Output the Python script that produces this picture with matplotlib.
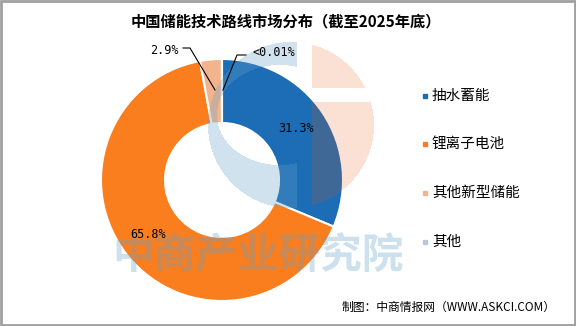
import numpy as np
import matplotlib.pyplot as plt
from matplotlib.patches import Rectangle

plt.rcParams['font.family'] = ['Noto Sans CJK SC', 'DejaVu Sans']

# 数据
categorias = ['抽水蓄能', '锂离子电池', '其他新型储能', '其他']
valores = [31.3, 65.8, 2.9, 0.01]
rotulos = ['31.3%', '65.8%', '2.9%', '<0.01%']
cores = ['#1c6db5', '#fa7d1e', '#f2b48c', '#b8c8d8']

W, H = 576, 326
fig = plt.figure(figsize=(W / 100, H / 100), dpi=100)
ax = fig.add_axes([0, 0, 1, 1])

# rosca
wedges, _ = ax.pie(valores, colors=cores, startangle=90, counterclock=False,
                   center=(222, 146), radius=121,
                   wedgeprops=dict(width=64, edgecolor='white', linewidth=1.5))
for w in wedges:
    w.set_zorder(2)

# marca d'agua (logo) como imagem RGBA semi-transparente
yy, xx = np.mgrid[0:H, 0:W] + 0.5
disco = (xx - 291) ** 2 + (yy - 125) ** 2 < 83 ** 2
elipse = ((xx - 280) / 63) ** 2 + ((yy - 115) / 50) ** 2 < 1
parte_azul = disco & (xx < 297) & ~elipse
parte_laranja = disco & (xx > 312) & ~((yy > 88) & (yy < 102))
logo = np.zeros((H, W, 4))
logo[parte_azul] = [100 / 255, 160 / 255, 200 / 255, 0.30]
logo[parte_laranja] = [233 / 255, 83 / 255, 16 / 255, 0.18]
ax.imshow(logo, extent=(0, W, 0, H), origin='upper', aspect='auto',
          interpolation='nearest', zorder=3)

# pie() e imshow() mudam os limites: refazer depois
ax.set_xlim(0, W)
ax.set_ylim(0, H)
ax.set_aspect('auto')
ax.axis('off')

# rotulos
fs = 8.5
mono = 'DejaVu Sans Mono'
ax.text(296, H - 129, rotulos[0], fontsize=fs, ha='center', va='center', zorder=5, family=mono)
ax.text(148, H - 235, rotulos[1], fontsize=fs, ha='center', va='center', zorder=5, family=mono)
ax.text(164, H - 50, rotulos[2], fontsize=fs, ha='center', va='center', zorder=5, family=mono)
ax.text(274, H - 53, rotulos[3], fontsize=fs, ha='center', va='center', zorder=5, family=mono)
ax.plot([183, 190, 215], [H - 48, H - 48, H - 90], color='black', lw=0.8, zorder=5)
ax.plot([246, 237, 223], [H - 55, H - 55, H - 90], color='black', lw=0.8, zorder=5)

# titulo
ax.text(286, H - 21, '中国储能技术路线市场分布（截至2025年底）', fontsize=11, fontweight='bold',
        ha='center', va='center', zorder=5)

# legenda
ys = [96, 144, 193, 242]
for cat, cor, y in zip(categorias, cores, ys):
    ax.add_patch(Rectangle((423, H - y - 2), 4, 4, color=cor, zorder=5))
    ax.text(432, H - y, cat, fontsize=10.5, ha='left', va='center', zorder=5)

# marca d'agua texto
ax.text(258, H - 257, '中商产业研究院', fontsize=30, fontweight='bold',
        color=(100 / 255, 160 / 255, 200 / 255), alpha=0.32,
        ha='center', va='center', zorder=4)

# fonte
ax.text(556, H - 307, '制图：中商情报网（WWW.ASKCI.COM）', fontsize=8.5, ha='right', va='center', zorder=5)

# moldura
ax.add_patch(Rectangle((1, 1), W - 2, H - 2, fill=False, edgecolor='#a0a0a0', lw=2, zorder=6))

plt.savefig('out.png', dpi=100)
